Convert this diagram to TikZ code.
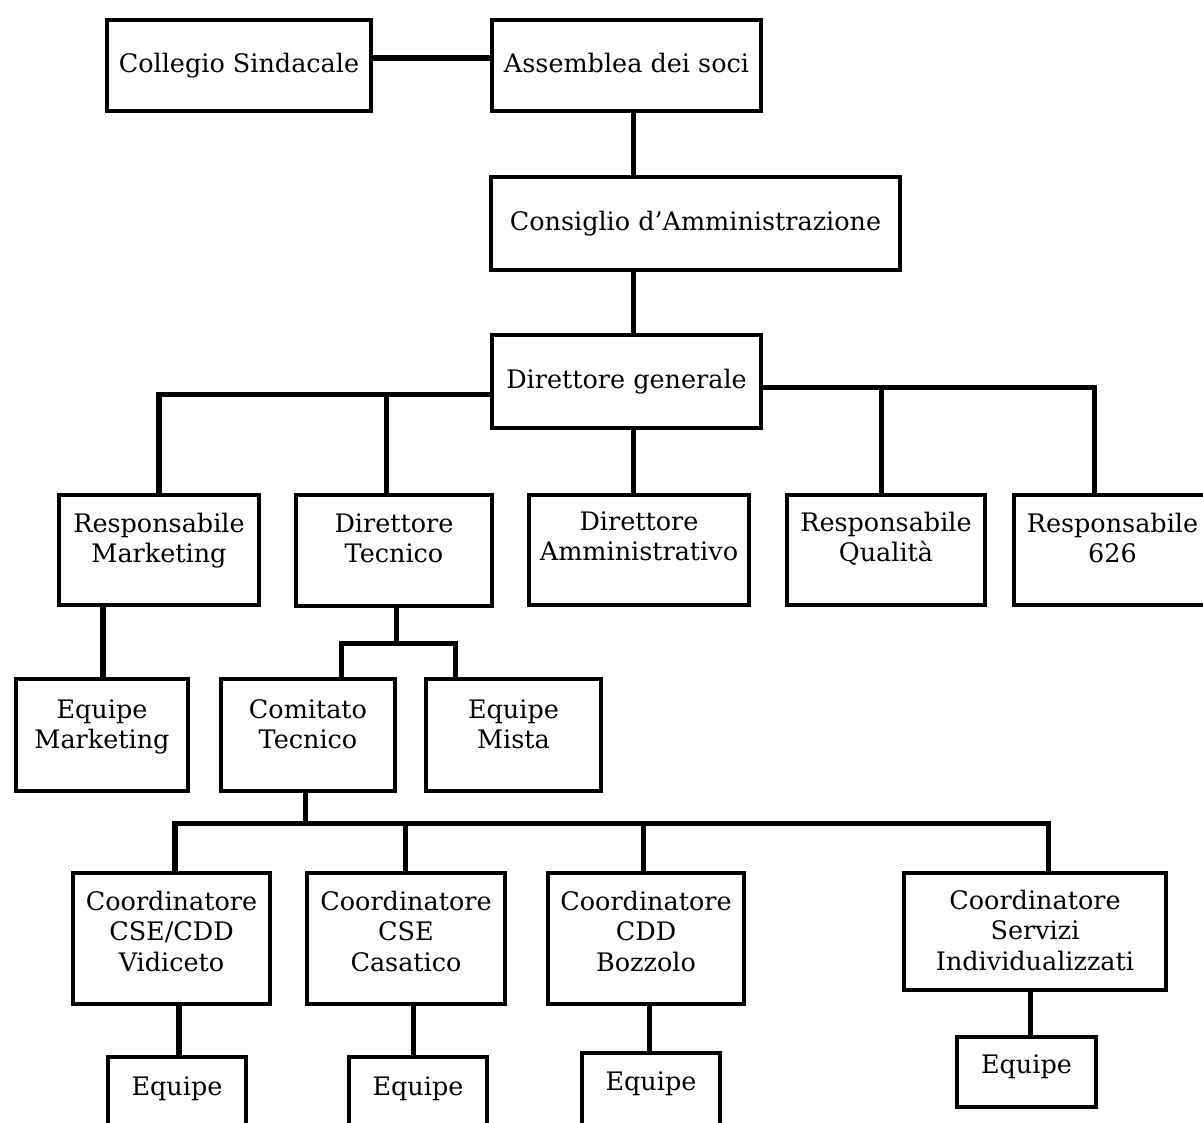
\documentclass[tikz,border=0pt]{standalone}
\usepackage{fontspec}
\setmainfont{DejaVu Serif}
\newcommand\lblfont{\fontsize{14.5}{17.6}\selectfont}
\tikzset{
  x=0.02cm, y=-0.02cm,
  orgbox/.style={draw, line width=2.3pt, inner sep=0pt, outer sep=0pt},
  conn/.style={line width=2.85pt},
  lbl/.style={inner sep=0pt, outer sep=0pt, font=\lblfont}
}
% name, x1, y1, x2, y2, baseline, text
\newcommand\orgnode[7]{%
  \node[orgbox, anchor=north west,
        minimum width={(#4-#2-4)*0.02cm}, minimum height={(#5-#3-4)*0.02cm}]
        (#1) at (#2+2,#3+2) {};
  \node[lbl, anchor=base] (#1-t) at ({(#2+#4)/2},#6)
        {\begin{tabular}[t]{@{}c@{}}#7\end{tabular}};}
\begin{document}
\begin{tikzpicture}
\useasboundingbox (0,0) rectangle (1203,1122);

\orgnode{coll}{105}{18}{373}{113}{72}{Collegio Sindacale}
\orgnode{ass}{490}{18}{763}{113}{72}{Assemblea dei soci}
\orgnode{cons}{489}{175}{902}{272}{230}{Consiglio d’Amministrazione}
\orgnode{dg}{490}{333}{763}{430}{388}{Direttore generale}

\orgnode{rm}{57}{493}{261}{607}{532}{Responsabile\\Marketing}
\orgnode{dt}{294}{493}{494}{608}{532}{Direttore\\Tecnico}
\orgnode{da}{527}{493}{751}{607}{530}{Direttore\\Amministrativo}
\orgnode{rq}{785}{493}{987}{607}{531}{Responsabile\\Qualità}
\orgnode{rs}{1012}{493}{1213}{607}{532}{Responsabile\\626}

\orgnode{em}{14}{677}{190}{793}{718}{Equipe\\Marketing}
\orgnode{ct}{219}{677}{397}{793}{718}{Comitato\\Tecnico}
\orgnode{mi}{424}{677}{603}{793}{718}{Equipe\\Mista}

\orgnode{c1}{71}{871}{272}{1006}{910}{Coordinatore\\CSE/CDD\\Vidiceto}
\orgnode{c2}{305}{871}{507}{1006}{910}{Coordinatore\\CSE\\Casatico}
\orgnode{c3}{546}{871}{746}{1006}{910}{Coordinatore\\CDD\\Bozzolo}
\orgnode{c4}{902}{871}{1168}{992}{909}{Coordinatore\\Servizi\\Individualizzati}

\orgnode{e1}{106}{1055}{248}{1140}{1095}{Equipe}
\orgnode{e2}{347}{1055}{489}{1140}{1095}{Equipe}
\orgnode{e3}{580}{1051}{722}{1140}{1090}{Equipe}
\orgnode{e4}{955}{1035}{1098}{1109}{1073}{Equipe}

% junction coordinates
\coordinate (jl) at (159,394);
\coordinate (jt) at (386,394);
\coordinate (jq) at (881,387);
\coordinate (jr) at (1094,387);
\coordinate (jd) at (396,643);
\coordinate (jdl) at (341,643);
\coordinate (jdr) at (455,643);
\coordinate (jc) at (305,823);
\coordinate (jc1) at (175,823);
\coordinate (jc2) at (405,823);
\coordinate (jc3) at (643,823);
\coordinate (jc4) at (1048,823);

% connectors
\draw[conn] (coll.east |- 0,58) -- (ass.west |- 0,58);
\draw[conn] (ass.south -| 633,0) -- (cons.north -| 633,0);
\draw[conn] (cons.south -| 633,0) -- (dg.north -| 633,0);
\draw[conn] (dg.south -| 633,0) -- (da.north -| 633,0);

\draw[conn] (dg.west |- jl) -- (jl) -- (rm.north -| jl);
\draw[conn] (jt) -- (dt.north -| jt);
\draw[conn] (dg.east |- jr) -- (jr) -- (rs.north -| jr);
\draw[conn] (jq) -- (rq.north -| jq);

\draw[conn] (rm.south -| 103,0) -- (em.north -| 103,0);
\draw[conn] (dt.south -| jd) -- (jd);
\draw[conn] (ct.north -| jdl) -- (jdl) -- (jdr) -- (mi.north -| jdr);

\draw[conn] (ct.south -| jc) -- (jc);
\draw[conn] (c1.north -| jc1) -- (jc1) -- (jc4) -- (c4.north -| jc4);
\draw[conn] (jc2) -- (c2.north -| jc2);
\draw[conn] (jc3) -- (c3.north -| jc3);

\draw[conn] (c1.south -| 179,0) -- (e1.north -| 179,0);
\draw[conn] (c2.south -| 413,0) -- (e2.north -| 413,0);
\draw[conn] (c3.south -| 649,0) -- (e3.north -| 649,0);
\draw[conn] (c4.south -| 1030,0) -- (e4.north -| 1030,0);
\end{tikzpicture}
\end{document}
